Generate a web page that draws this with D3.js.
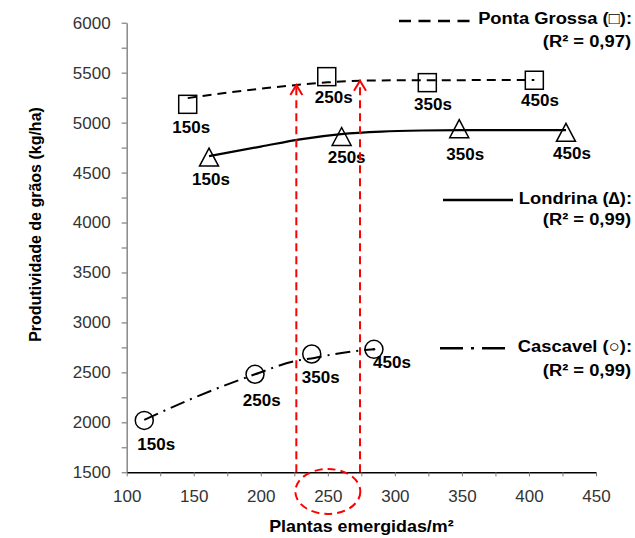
<!DOCTYPE html>
<html>
<head>
<meta charset="utf-8">
<script src="https://cdn.jsdelivr.net/npm/d3@7"></script>
<style>
  body { margin: 0; background: #fff; }
  text { font-family: "Liberation Sans", Arial, sans-serif; }
</style>
</head>
<body>
<svg id="chart" width="635" height="538"></svg>
<script>
// dados
var seedLabels = ["150s", "250s", "350s", "450s"];

// Ponta Grossa (quadrados)
var pgX = [145.5, 249.2, 324.2, 404.0];
var pgY = [5183, 5460, 5400, 5424];
var pgFitX = [145.5, 175, 200, 226.5, 250, 274, 300, 350, 404];
var pgFitY = [5245, 5300, 5340, 5376, 5403, 5419, 5423, 5425, 5427];

// Londrina (triângulos)
var ldX = [161.4, 260.3, 348.0, 427.6];
var ldY = [4655, 4861, 4939, 4903];
var ldFitX = [161.4, 200, 229.3, 260, 290, 320, 350, 427.6];
var ldFitY = [4665, 4760, 4833, 4885, 4910, 4921, 4925, 4925];

// Cascavel (círculos)
var cvX = [113.1, 195.7, 238.0, 284.4];
var cvY = [2019, 2481, 2684, 2731];
var cvFitX = [113.1, 150, 195.7, 226.5, 240, 255, 276, 284.4];
var cvFitY = [2025, 2245, 2481, 2617, 2645, 2683, 2722, 2731];

// setas vermelhas
var arrowX = [226.5, 274];
var arrowTop = [5376, 5419];

var xTicks = d3.range(100, 451, 25);
var yTicks = d3.range(1500, 6001, 250);

var svg = d3.select("#chart");
var x = d3.scaleLinear().domain([100, 450]).range([126.7, 596]);
var y = d3.scaleLinear().domain([1500, 6000]).range([472.3, 22.7]);

// eixos
var gx = svg.append("g")
  .attr("transform", "translate(0," + y(1500) + ")")
  .call(d3.axisBottom(x).tickValues(xTicks).tickSize(4).tickSizeOuter(0).tickPadding(13.5)
    .tickFormat(function(d) { return d % 50 === 0 ? d : ""; }));
gx.select(".domain").attr("stroke", "#000").attr("stroke-width", 1.5);
gx.selectAll(".tick line").attr("stroke", "#777");
gx.selectAll(".tick text").attr("font-size", 17).attr("fill", "#333")
  .style("font-family", "Liberation Sans, Arial, sans-serif");

var gy = svg.append("g")
  .attr("transform", "translate(" + x(100) + ",0)")
  .call(d3.axisLeft(y).tickValues(yTicks).tickSize(5).tickSizeOuter(0).tickPadding(11)
    .tickFormat(function(d) { return d % 500 === 0 ? d : ""; }));
gy.select(".domain").attr("stroke", "#888").attr("stroke-width", 1.5);
gy.selectAll(".tick line").attr("stroke", "#666");
gy.selectAll(".tick text").attr("font-size", 17).attr("fill", "#333")
  .style("font-family", "Liberation Sans, Arial, sans-serif");
gx.raise();

// títulos
svg.append("text")
  .attr("transform", "translate(" + ((x(100) + x(450)) / 2) + ",531.5) scale(1.05,1)")
  .attr("text-anchor", "middle").attr("font-size", 17).attr("font-weight", "bold")
  .text("Plantas emergidas/m²");
svg.append("text")
  .attr("transform", "translate(41,224.5) rotate(-90)")
  .attr("text-anchor", "middle").attr("font-size", 16).attr("font-weight", "bold")
  .text("Produtividade de grãos (kg/ha)");

// curvas ajustadas
function fitLine(xs, ys) {
  return d3.line().x(function(d, i) { return x(xs[i]); })
    .y(function(d, i) { return y(ys[i]); })
    .curve(d3.curveMonotoneX)(xs);
}
svg.append("path").attr("d", fitLine(pgFitX, pgFitY))
  .attr("fill", "none").attr("stroke", "#000").attr("stroke-width", 2).attr("stroke-dasharray", "9,6");
svg.append("path").attr("d", fitLine(ldFitX, ldFitY))
  .attr("fill", "none").attr("stroke", "#000").attr("stroke-width", 2.2);
svg.append("path").attr("d", fitLine(cvFitX, cvFitY))
  .attr("fill", "none").attr("stroke", "#000").attr("stroke-width", 2).attr("stroke-dasharray", "15,6,2,6");

// marcadores
var mk = svg.append("g").attr("fill", "none").attr("stroke", "#000").attr("stroke-width", 1.5);
pgX.forEach(function(v, i) {
  mk.append("rect").attr("x", x(v) - 9).attr("y", y(pgY[i]) - 9).attr("width", 18).attr("height", 18);
});
ldX.forEach(function(v, i) {
  var cx = x(v), cy = y(ldY[i]);
  mk.append("path").attr("d", "M" + cx + "," + (cy - 9) + "L" + (cx + 9.5) + "," + (cy + 9) + "L" + (cx - 9.5) + "," + (cy + 9) + "Z");
});
cvX.forEach(function(v, i) {
  mk.append("circle").attr("cx", x(v)).attr("cy", y(cvY[i])).attr("r", 9);
});
svg.append("circle").attr("cx", x(cvX[3])).attr("cy", y(cvY[3])).attr("r", 1.3).attr("fill", "#000");

// rótulos das densidades
var nudge = {
  pg: [[3.5, 29], [7, 26.6], [5.7, 27], [5.7, 26]],
  ld: [[2, 28], [5, 27], [6, 31.5], [6, 27]],
  cv: [[12, 30], [6.7, 31.7], [9, 29], [18, 19]]
};
function addLabels(xs, ys, nd) {
  xs.forEach(function(v, i) {
    svg.append("text")
      .attr("x", x(v) + nd[i][0]).attr("y", y(ys[i]) + nd[i][1])
      .attr("text-anchor", "middle").attr("font-size", 17).attr("font-weight", "bold")
      .text(seedLabels[i]);
  });
}
addLabels(pgX, pgY, nudge.pg);
addLabels(ldX, ldY, nudge.ld);
addLabels(cvX, cvY, nudge.cv);

// setas e elipse vermelhas
var red = svg.append("g").attr("stroke", "#f00").attr("stroke-width", 2).attr("fill", "none");
arrowX.forEach(function(v, i) {
  var ax = x(v), ay = y(arrowTop[i]);
  red.append("line").attr("x1", ax).attr("x2", ax).attr("y1", y(1500)).attr("y2", ay + 2)
    .attr("stroke-dasharray", "8,5");
  red.append("path").attr("d", "M" + (ax - 6) + "," + (ay + 10) + "L" + ax + "," + ay + "L" + (ax + 6) + "," + (ay + 10));
});
red.append("ellipse").attr("cx", x(250)).attr("cy", 491.5).attr("rx", 32.5).attr("ry", 22.5)
  .attr("stroke-dasharray", "8,5");

// legendas
function legend(x1, x2, ly, dash, t1, y1, t2, y2) {
  svg.append("line").attr("x1", x1).attr("x2", x2).attr("y1", ly).attr("y2", ly)
    .attr("stroke", "#000").attr("stroke-width", 2.5).attr("stroke-dasharray", dash);
  svg.append("text").attr("transform", "translate(632," + y1 + ") scale(1.08,1)")
    .attr("text-anchor", "end").attr("font-size", 17).attr("font-weight", "bold").text(t1);
  svg.append("text").attr("transform", "translate(631," + y2 + ") scale(1.08,1)")
    .attr("text-anchor", "end").attr("font-size", 17).attr("font-weight", "bold").text(t2);
}
legend(399, 470, 21, "12,7.5", "Ponta Grossa (□):", 24, "(R² = 0,97)", 46.5);
legend(443, 513, 200, null, "Londrina (∆):", 204, "(R² = 0,99)", 225);
legend(440, 505, 348.3, "23,8,3,8", "Cascavel (○):", 352, "(R² = 0,99)", 376);
</script>
</body>
</html>
